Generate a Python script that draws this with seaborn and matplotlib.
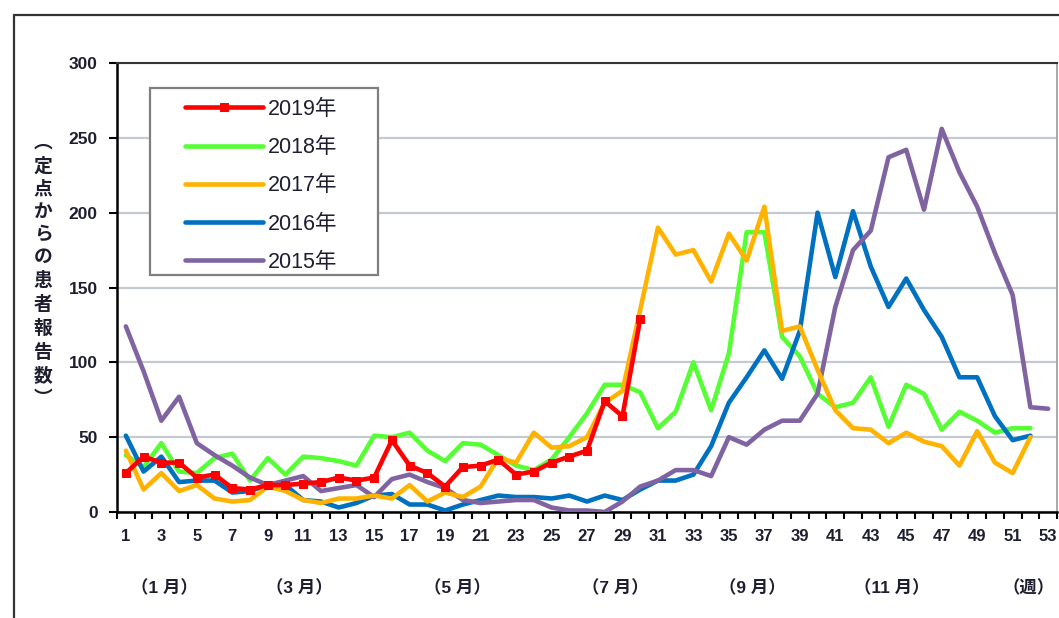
import matplotlib
matplotlib.use('Agg')
import matplotlib.pyplot as plt
import seaborn as sns
import pandas as pd
from matplotlib.patches import Rectangle
from matplotlib.lines import Line2D

# 週ごとの定点からの患者報告数
y2019 = [26, 37, 33, 33, 23, 25, 16, 15, 18, 18, 19, 20, 23, 21, 23, 48, 31, 26, 17, 30,
         31, 35, 25, 27, 33, 37, 41, 74, 64, 129]
y2018 = [38, 30, 46, 27, 26, 36, 39, 21, 36, 25, 37, 36, 34, 31, 51, 50, 53, 41, 34, 46,
         45, 38, 31, 28, 35, 50, 66, 85, 85, 80, 56, 67, 100, 68, 106, 187, 187, 117, 104, 79,
         70, 73, 90, 57, 85, 79, 55, 67, 61, 53, 56, 56]
y2017 = [41, 15, 26, 14, 18, 9, 7, 8, 17, 14, 8, 6, 9, 9, 11, 9, 18, 7, 13, 10,
         17, 36, 33, 53, 43, 44, 50, 73, 81, 135, 190, 172, 175, 154, 186, 168, 204, 121, 124, 95,
         68, 56, 55, 46, 53, 47, 44, 31, 54, 33, 26, 50]
y2016 = [51, 27, 37, 20, 21, 21, 13, 14, 18, 18, 8, 7, 3, 6, 11, 12, 5, 5, 1, 5,
         8, 11, 10, 10, 9, 11, 7, 11, 8, 15, 21, 21, 25, 44, 73, 90, 108, 89, 121, 200,
         157, 201, 164, 137, 156, 135, 117, 90, 90, 64, 48, 51]
y2015 = [124, 94, 61, 77, 46, 38, 31, 23, 18, 21, 24, 14, 16, 18, 10, 22, 25, 20, 16, 8,
         6, 7, 8, 8, 3, 1, 1, 0, 7, 17, 21, 28, 28, 24, 50, 45, 55, 61, 61, 79,
         137, 175, 188, 237, 242, 202, 256, 227, 204, 173, 145, 70, 69]

years = ['2019年', '2018年', '2017年', '2016年', '2015年']
series = [y2019, y2018, y2017, y2016, y2015]
colors = ['#FF0000', '#55FF33', '#FFB300', '#0070C0', '#8064A2']
zorders = [6, 3, 5, 3.5, 4]

week_labels = [str(w) for w in range(1, 54, 2)]
month_labels = ['（1 月）', '（3 月）', '（5 月）', '（7 月）', '（9 月）', '（11 月）', '（週）']
month_x = [3.15, 10.8, 19.7, 28.6, 36.3, 44.2, 51.9]

rows = []
for name, vals in zip(years, series):
    for i, v in enumerate(vals):
        rows.append({'year': name, 'week': i + 1, 'count': v})
df = pd.DataFrame(rows)

sns.set_style('white')
plt.rcParams['font.family'] = ['Liberation Sans', 'Noto Sans CJK JP']

W, H = 1059, 618
fig = plt.figure(figsize=(W / 100, H / 100), dpi=100)
ax = fig.add_axes([117 / W, 1 - 512 / H, 940 / W, 449 / H])

for name, color, z in zip(years, colors, zorders):
    d = df[df['year'] == name]
    kw = {}
    if name == '2019年':
        kw = dict(marker='s', markersize=5.5, markeredgecolor=color, markerfacecolor=color)
    sns.lineplot(data=d, x='week', y='count', color=color, lw=3.3, ax=ax,
                 label=name, zorder=z, legend=False, **kw)

ax.set_xlim(0.5, 53.5)
ax.set_ylim(0, 300)
ax.set_xlabel('')
ax.set_ylabel('')

ax.set_yticks(range(0, 301, 50))
ax.yaxis.grid(True, color='#C3CAD2', lw=1.6)
ax.set_axisbelow(True)
ax.tick_params(axis='y', direction='out', length=6, width=1.5, color='black', pad=8,
               labelsize=12.5, labelcolor='#1E1E30', left=True)
for lab in ax.get_yticklabels():
    lab.set_fontweight('bold')

ax.set_xticks([w + 0.5 for w in range(0, 54)], [''] * 54)
ax.set_xticks(list(range(1, 54, 2)), week_labels, minor=True)
ax.tick_params(axis='x', which='major', direction='out', length=5, width=1.5,
               color='black', bottom=True)
ax.tick_params(axis='x', which='minor', length=0, pad=12, labelsize=12,
               labelcolor='#1E1E30')
for lab in ax.get_xticklabels(minor=True):
    lab.set_fontweight('bold')

for side in ['left', 'bottom']:
    ax.spines[side].set_color('black')
    ax.spines[side].set_linewidth(1.8)
ax.spines['top'].set_color('#333333')
ax.spines['top'].set_linewidth(1.5)
ax.spines['right'].set_color('#999999')
ax.spines['right'].set_linewidth(1.2)

for x, t in zip(month_x, month_labels):
    ax.text(x, -0.169, t, transform=ax.get_xaxis_transform(), ha='center', va='center',
            fontsize=12.5, fontweight='bold', color='#1E1E30')

# 凡例の枠
ax.add_patch(Rectangle(((150 - 117) / 940, (512 - 275) / 449), (378 - 150) / 940, (275 - 88) / 449,
                       transform=ax.transAxes, facecolor='white', edgecolor='#7F7F7F',
                       lw=1.6, zorder=7))
handles, labels = ax.get_legend_handles_labels()
order = [labels.index(y) for y in years]
leg = ax.legend([handles[i] for i in order], [labels[i] for i in order],
                loc='upper left', bbox_to_anchor=((185 - 117) / 940, (512 - 99) / 449),
                frameon=False, borderpad=0, borderaxespad=0, fontsize=15.5,
                handlelength=3.6, handletextpad=0.25, labelspacing=0.8)
leg.set_zorder(8)
for t in leg.get_texts():
    t.set_color('#1E1E30')

# 縦書きの軸ラベル
ylab = '\n'.join(list('︵定点からの患者報告数︶'))
fig.text(43 / W, 1 - 271 / H, ylab, ha='center', va='center', fontsize=13.5,
         fontweight='bold', linespacing=1.42, color='#1E1E30')

# 外枠
fig.add_artist(Line2D([14 / W, 1], [1 - 15 / H, 1 - 15 / H], transform=fig.transFigure,
                      color='#333333', lw=1.6))
fig.add_artist(Line2D([14 / W, 14 / W], [1 - 15 / H, 0], transform=fig.transFigure,
                      color='#333333', lw=1.6))

fig.savefig('out.png', dpi=100)
